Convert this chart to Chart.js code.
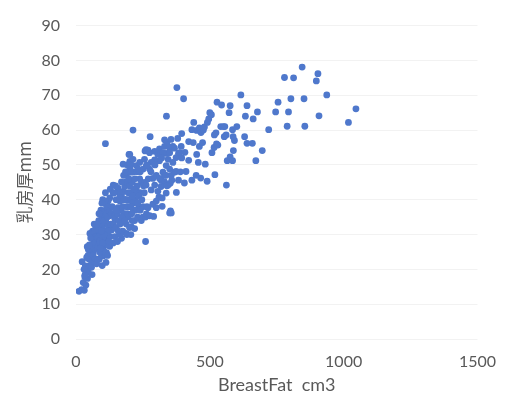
<!DOCTYPE html>
<html>
<head>
<meta charset="utf-8">
<script src="https://cdn.jsdelivr.net/npm/chart.js@4"></script>
<style>
    html, body { margin: 0; padding: 0; background: #ffffff; }
    #thicknessChart { display: block; }
</style>
</head>
<body>
<canvas id="thicknessChart" width="509" height="399"></canvas>
<script>
// [breast fat volume cm3, breast thickness mm], grouped by volume range
const fatUnder80 = [
    [11, 13.7], [21, 14.2], [31, 14], [37, 15.5], [27, 16.2], [33, 17.8], [43, 17.4], [37, 19],
    [46, 19.2], [33, 18.3], [42, 20.2], [52, 21.1], [50, 21], [58, 20.6], [23, 22.2], [35, 21],
    [48, 23], [54, 22.9], [60, 22], [40, 23.4], [64, 24.8], [45, 24], [55, 24.6], [64, 23.9],
    [71, 22.9], [46, 25.7], [42, 26.5], [58, 26.6], [68, 26], [58, 27.1], [71, 27.6], [67, 27.8],
    [62, 29.4], [74, 29.4], [55, 29], [74, 30.2], [52, 30.3], [72, 26], [71, 22], [50, 27],
    [62, 31], [68, 33], [77, 21.6], [30, 20], [60, 18.5]
];

const fat80to140 = [
    [79, 29], [82, 29], [89, 28.3], [84, 26.6], [95, 25.5], [102, 23.9], [87, 22.9], [98, 21.1],
    [112, 22], [83, 22.9], [95, 24.3], [104, 26.6], [114, 24.8], [108, 27.8], [116, 29], [89, 30.8],
    [99, 32.2], [112, 33.6], [89, 33.6], [83, 32.2], [71, 31.3], [120, 32.7], [126, 29.4], [126, 26.6],
    [133, 31.3], [139, 27.6], [83, 31.3], [89, 33.1], [101, 35], [108, 36.8], [114, 38.7], [126, 40.5],
    [102, 36.8], [95, 35.4], [120, 39.6], [114, 36.3], [126, 35.4], [80, 26], [92, 30], [100, 29],
    [110, 31], [118, 27], [85, 34], [93, 37], [105, 34], [122, 31], [130, 33], [78, 33],
    [96, 27], [106, 25], [88, 25], [115, 38], [125, 37], [100, 40], [110, 42], [90, 28],
    [118, 24], [108, 39.6], [139, 41.9], [139, 44.2], [135, 38], [128, 43], [105, 30], [95, 31],
    [117, 35], [123, 28], [132, 36], [99, 27.5], [91, 26], [86, 36], [97, 39], [110, 56.1]
];

const fat140to260 = [
    [145, 29.4], [145, 35.4], [145, 34.5], [157, 37.7], [164, 39.6], [170, 41.4], [176, 42.4], [182, 43.8],
    [188, 45.1], [157, 43.3], [170, 45.1], [188, 47], [201, 48.8], [140, 33], [150, 32], [155, 36],
    [160, 34], [168, 37], [175, 38], [180, 36], [185, 40], [190, 38], [195, 42], [150, 40],
    [160, 42], [164, 40.5], [178, 47], [185, 48], [192, 50], [200, 44], [198, 40], [195, 35],
    [188, 33], [188, 30.3], [170, 28.9], [175, 31], [165, 30], [155, 28], [142, 42], [148, 44],
    [200, 32], [190, 30], [205, 30], [207, 32.2], [210, 34], [215, 37], [219, 31.7], [219, 34],
    [220, 40], [225, 43], [210, 45], [215, 48], [205, 50], [201, 53], [201, 51], [203, 50.5],
    [198, 53], [207, 47.9], [213, 51.6], [213, 60], [230, 35], [235, 38], [240, 42], [244, 34],
    [245, 45], [250, 38], [250, 35], [228, 48], [226, 41.9], [226, 49.8], [232, 48.8], [238, 46],
    [238, 50.7], [255, 42], [260, 35], [263, 35.9], [265, 38], [258, 45], [251, 48.8], [256, 51.6],
    [262, 54.4], [258, 54], [260, 28], [176, 50.2], [186, 40], [192, 36], [198, 46], [204, 42],
    [212, 39], [222, 37], [228, 44], [234, 41], [240, 37], [246, 40], [252, 44], [165, 33],
    [172, 35], [180, 40], [150, 37], [158, 31], [208, 36], [216, 43], [182, 34], [195, 38],
    [205, 38], [220, 46], [240, 48], [210, 41], [230, 39]
];

const fat260to420 = [
    [269, 37.7], [287, 38.7], [300, 39.6], [300, 37.7], [310, 40.7], [322, 38.1], [337, 41.9], [350, 36.2],
    [356, 36.2], [353, 36.8], [275, 35.4], [290, 35.2], [375, 42.1], [358, 45.6], [383, 45.6], [405, 44.8],
    [281, 42.8], [262, 44.2], [294, 44.2], [306, 42.4], [318, 43.8], [322, 40.5], [331, 45.1], [344, 44.2],
    [352, 44.7], [318, 45.6], [287, 46.1], [300, 47], [312, 46.1], [325, 47.9], [331, 47], [337, 47],
    [350, 48.8], [356, 47], [368, 47.9], [374, 48.1], [411, 48.1], [433, 45.6], [362, 50.7], [344, 51.6],
    [337, 49.8], [337, 53.3], [312, 51.2], [312, 54.6], [306, 53], [294, 53.9], [294, 51.4], [275, 53.5],
    [275, 48.8], [269, 54.2], [281, 50.7], [263, 49.8], [325, 53.5], [331, 55.3], [331, 57.2], [340, 56.4],
    [349, 55.1], [355, 57.3], [362, 55.3], [368, 54.8], [350, 53.5], [374, 52.1], [383, 53.3], [387, 53.5],
    [393, 55.3], [407, 53.6], [421, 51.3], [380, 57.6], [395, 59], [421, 56.7], [277, 58.1], [338, 64],
    [377, 72.2], [402, 69], [270, 46], [265, 50], [280, 48], [295, 50], [320, 52], [390, 48],
    [395, 52], [340, 44]
];

const fatOver420 = [
    [438, 56.4], [433, 60.1], [440, 62.2], [451, 59.9], [451, 53], [457, 50.7], [449, 47], [461, 60.6],
    [461, 55.3], [466, 46.2], [467, 59.3], [473, 56.4], [476, 60], [480, 60.9], [483, 50.2], [490, 45.3],
    [491, 62.2], [496, 63.2], [500, 65], [506, 64.4], [508, 53.5], [516, 55], [517, 58.6], [519, 47.2],
    [523, 59.2], [525, 56], [527, 68], [530, 55.7], [541, 61], [544, 67.2], [551, 61], [554, 58.1],
    [556, 61], [561, 58.6], [562, 44.2], [565, 51.2], [572, 65], [576, 52.3], [576, 67], [585, 51.2],
    [585, 60.1], [587, 58.1], [588, 54.1], [592, 57], [601, 61], [616, 70.1], [630, 58.1], [633, 64],
    [639, 56.2], [639, 67], [659, 56.2], [662, 63.2], [672, 51.2], [678, 65.2], [696, 54.1], [720, 60.1],
    [746, 65.2], [755, 68], [779, 75.1], [789, 61.1], [794, 65.2], [803, 69], [813, 75], [845, 78.1],
    [852, 69], [855, 61.1], [898, 74.1], [904, 76.2], [908, 64.1], [937, 70.1], [1018, 62.2], [1046, 66.1]
];

const xTitle = 'BreastFat  cm3';
const yTitle = '乳房厚mm';

const allPoints = [].concat(fatUnder80, fat80to140, fat140to260, fat260to420, fatOver420)
    .map(p => ({x: p[0], y: p[1]}));

const textColor = '#595959';
const fontFamily = "Lato, 'Noto Sans CJK SC', sans-serif";

new Chart(document.getElementById('thicknessChart'), {
    type: 'scatter',
    data: {
        datasets: [{
            data: allPoints,
            backgroundColor: '#4f78cc',
            borderWidth: 0,
            pointRadius: 3.4
        }]
    },
    options: {
        responsive: false,
        animation: false,
        layout: {
            padding: {left: 0, right: 27, top: 15, bottom: 0}
        },
        plugins: {
            legend: {display: false},
            tooltip: {enabled: false}
        },
        scales: {
            x: {
                type: 'linear',
                min: 0,
                max: 1500,
                border: {display: false},
                grid: {display: false, drawTicks: false},
                ticks: {
                    stepSize: 500,
                    padding: 13,
                    color: textColor,
                    font: {family: fontFamily, size: 16},
                    // plain numbers, no thousands separator
                    callback: value => String(value)
                },
                title: {
                    display: true,
                    text: xTitle,
                    color: textColor,
                    font: {family: fontFamily, size: 18},
                    padding: {top: 0, bottom: 3}
                },
                afterFit: scale => { scale.height = 60; }
            },
            y: {
                min: 0,
                max: 90,
                border: {display: false},
                grid: {color: '#f2f2f2', drawTicks: false},
                ticks: {
                    stepSize: 10,
                    padding: 16,
                    color: textColor,
                    font: {family: fontFamily, size: 16}
                },
                title: {
                    display: true,
                    text: yTitle,
                    color: textColor,
                    font: {family: "'Noto Sans CJK SC', sans-serif", size: 17},
                    padding: {top: 14, bottom: 0}
                },
                afterFit: scale => { scale.width = 76; }
            }
        }
    }
});
</script>
</body>
</html>
